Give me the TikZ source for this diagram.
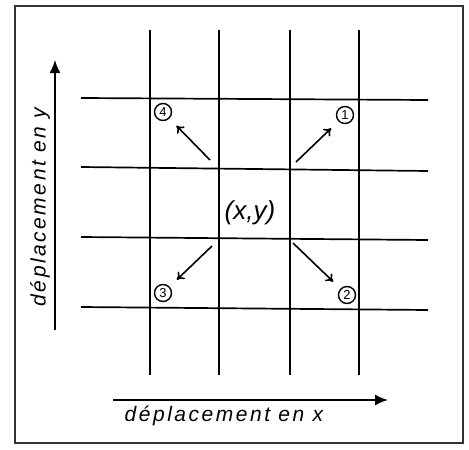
\documentclass[tikz,border=0pt]{standalone}
\usepackage{fontspec}
\setmainfont{Liberation Sans}
\usetikzlibrary{arrows.meta}
\tikzset{
  hand/.style={font=\fontsize{21}{21}\selectfont\itshape\addfontfeature{LetterSpace=12}},
  circ/.style={draw, circle, line width=1.4pt, inner sep=0pt, minimum size=17pt, font=\fontsize{13}{13}\selectfont}
}

\begin{document}
\begin{tikzpicture}[x=1pt,y=-1pt]
 \useasboundingbox (0,0) rectangle (469,450);
 %frame
 \draw[line width=1.8pt, black!80] (15,6) rectangle (463,443);

 %grid
 \draw[line width=1.7pt] (150,30) -- (150,375);
 \draw[line width=1.7pt] (219,30) -- (219,375);
 \draw[line width=1.7pt] (290,30) -- (290,375);
 \draw[line width=1.7pt] (359,30) -- (359,375);
 \draw[line width=1.7pt] (81,98) -- (428,100);
 \draw[line width=1.7pt] (81,167) -- (428,171);
 \draw[line width=1.7pt] (81,237) -- (428,240);
 \draw[line width=1.7pt] (81,307) -- (428,310);

 %axes:
 \draw[-{Latex[length=13pt,width=11pt]}, line width=1.7pt] (55,330) -- (55,60);
 \draw[-{Latex[length=13pt,width=11pt]}, line width=1.7pt] (113,400) -- (388,400);
 \node[hand, rotate=90] (ly) at (40,207) {déplacement en y};
 \node[hand] (lx) at (224,416) {déplacement en x};

 %point and neighbours
 \node[font=\fontsize{26}{26}\selectfont\itshape] (xy) at (250,213) {(x,y)};
 \node[circ] (n1) at (345,115) {1};
 \node[circ] (n2) at (347,295) {2};
 \node[circ] (n3) at (163,293) {3};
 \node[circ] (n4) at (163,112) {4};

 \coordinate (s1) at (296,162);
 \coordinate (s2) at (293,243);
 \coordinate (s3) at (212,246);
 \coordinate (s4) at (210,160);
 \draw[-{To[length=7pt,width=10pt]}, line width=1.6pt, shorten >=10pt] (s1) -- (n1);
 \draw[-{To[length=7pt,width=10pt]}, line width=1.6pt, shorten >=10pt] (s2) -- (n2);
 \draw[-{To[length=7pt,width=10pt]}, line width=1.6pt, shorten >=10pt] (s3) -- (n3);
 \draw[-{To[length=7pt,width=10pt]}, line width=1.6pt, shorten >=10pt] (s4) -- (n4);
\end{tikzpicture}
\end{document}
